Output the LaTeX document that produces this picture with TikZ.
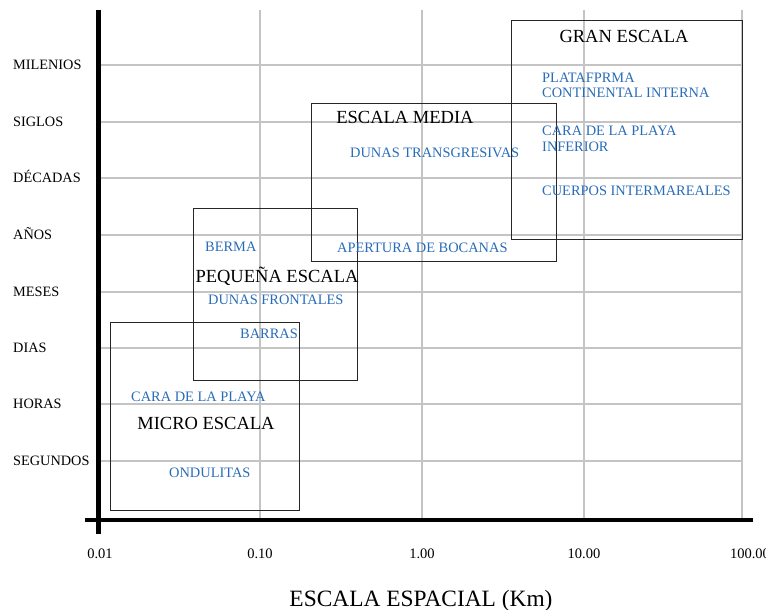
\documentclass[tikz,border=0pt]{standalone}
\usepackage{fontspec}
\setmainfont{Liberation Serif}
\definecolor{lblblue}{RGB}{40,108,184}
\definecolor{gridgray}{RGB}{196,196,196}
\begin{document}
\begin{tikzpicture}[x=1pt,y=-1pt,
  gridline/.style={draw=gridgray, line width=1.1pt},
  axisline/.style={draw=black, line width=4.5pt},
  scalebox/.style={draw=black!85, line width=0.9pt, inner sep=0, anchor=north west},
  ylab/.style={anchor=base west, inner sep=0, font=\fontsize{14.3}{15}\selectfont},
  xlab/.style={anchor=base, inner sep=0, font=\fontsize{14.5}{15}\selectfont},
  boxtitle/.style={anchor=base, inner sep=0, font=\fontsize{18.5}{20}\selectfont},
  feat/.style={anchor=base west, inner sep=0, text=lblblue, font=\fontsize{14.4}{15}\selectfont},
  featml/.style={anchor=north west, inner sep=0, text=lblblue, align=left, font=\fontsize{14.4}{15.5}\selectfont},
]
\useasboundingbox (0,0) rectangle (766,610);
% grid
\foreach \gy in {65,122,178,235,292,348,404,461}
  \draw[gridline] (101,\gy) -- (742,\gy);
\foreach \gx in {260,422,584,742}
  \draw[gridline] (\gx,10) -- (\gx,518);
% scale boxes
\node[scalebox, minimum width=189pt, minimum height=188pt] (micro) at (110,322) {};
\node[scalebox, minimum width=164pt, minimum height=172pt] (pequena) at (193,208) {};
\node[scalebox, minimum width=245pt, minimum height=158pt] (media) at (311,103) {};
\node[scalebox, minimum width=231pt, minimum height=219pt] (gran) at (511,20) {};
% axes
\coordinate (ytop) at (98.5,10);
\coordinate (ybot) at (98.5,534);
\coordinate (xleft) at (85,520);
\coordinate (xright) at (753,520);
\draw[axisline] (ytop) -- (ybot);
\draw[axisline] (xleft) -- (xright);
% y labels
\node[ylab] (l1) at (13,69.8) {MILENIOS};
\node[ylab] (l2) at (13,126.8) {SIGLOS};
\node[ylab] (l3) at (13,182.8) {DÉCADAS};
\node[ylab] (l4) at (13,239.8) {AÑOS};
\node[ylab] (l5) at (13,296.8) {MESES};
\node[ylab] (l6) at (13,352.8) {DIAS};
\node[ylab] (l7) at (13,408.8) {HORAS};
\node[ylab] (l8) at (13,465.8) {SEGUNDOS};
% x labels
\node[xlab] (x1) at (100,558) {0.01};
\node[xlab] (x2) at (260,558) {0.10};
\node[xlab] (x3) at (422,558) {1.00};
\node[xlab] (x4) at (584,558) {10.00};
\node[xlab] (x5) at (750,558) {100.00};
\node[anchor=base, inner sep=0, font=\fontsize{23.4}{25}\selectfont] (xtitle) at (421,606) {ESCALA ESPACIAL (Km)};
% box titles
\node[boxtitle] (tgran) at (624,43) {GRAN ESCALA};
\node[boxtitle] (tmedia) at (405,123) {ESCALA MEDIA};
\node[boxtitle] (tpeq) at (277,282) {PEQUEÑA ESCALA};
\node[boxtitle] (tmicro) at (206,429) {MICRO ESCALA};
% features
\node[featml] (f1) at (542,72.6) {PLATAFPRMA\\CONTINENTAL INTERNA};
\node[featml] (f2) at (542,125.8) {CARA DE LA PLAYA\\INFERIOR};
\node[feat] (f3) at (542,195.8) {CUERPOS INTERMAREALES};
\node[feat] (f4) at (350,157.8) {DUNAS TRANSGRESIVAS};
\node[feat] (f5) at (337,252.8) {APERTURA DE BOCANAS};
\node[feat] (f6) at (205,251.8) {BERMA};
\node[feat] (f7) at (208,304.8) {DUNAS FRONTALES};
\node[feat] (f8) at (240,338.8) {BARRAS};
\node[feat] (f9) at (131,401.8) {CARA DE LA PLAYA};
\node[feat] (f10) at (169,477.8) {ONDULITAS};
\end{tikzpicture}
\end{document}
